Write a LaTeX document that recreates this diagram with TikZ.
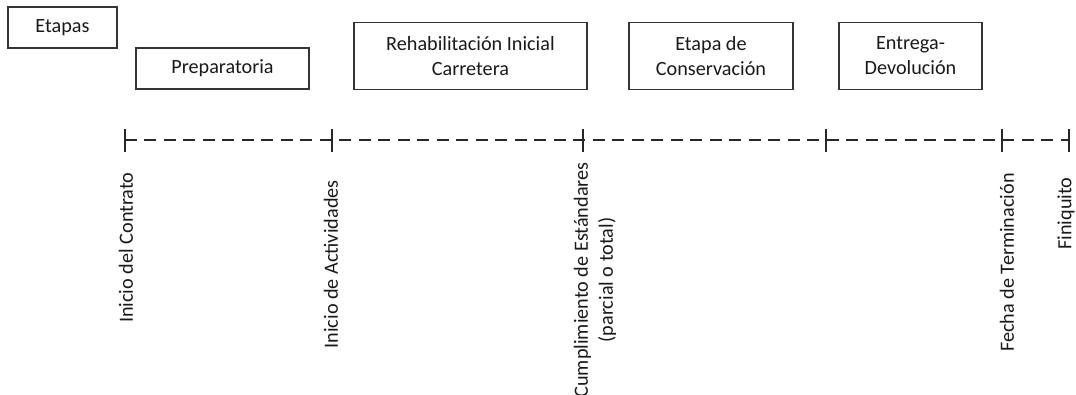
\documentclass[tikz,border=0pt]{standalone}
\usepackage{fontspec}
\setmainfont{Carlito}
\tikzset{
  etapa/.style={draw=black!80, line width=0.8pt, align=center, inner sep=0pt, text=black!90},
  hito/.style={rotate=90, anchor=east, align=center, inner sep=0pt, text=black!90},
  linea/.style={draw=black!85, line width=1.1pt, dash pattern=on 0.24cm off 0.15cm},
  marca/.style={draw=black!85, line width=1.1pt}
}
\begin{document}
\begin{tikzpicture}[x=0.02cm, y=-0.02cm, font=\fontsize{11.5}{14.2}\selectfont]
\useasboundingbox (0,0) rectangle (1076,395);

% Etapas
\node [etapa, minimum width=2.18cm, minimum height=0.82cm] (etapas) at (62.5,27.5) {Etapas};
\node [etapa, minimum width=3.46cm, minimum height=0.82cm] (prep) at (222.5,68.5) {Preparatoria};
\node [etapa, minimum width=4.66cm, minimum height=1.34cm] (rehab) at (470.5,56) {Rehabilitación Inicial\\Carretera};
\node [etapa, minimum width=3.28cm, minimum height=1.34cm] (cons) at (711,56) {Etapa de\\Conservación};
\node [etapa, minimum width=2.86cm, minimum height=1.34cm] (entrega) at (910.5,56) {Entrega-\\Devolución};

% Linea de tiempo
\coordinate (t1) at (125,140);
\coordinate (t2) at (332,140);
\coordinate (t3) at (583,140);
\coordinate (t4) at (826,140);
\coordinate (t5) at (1002,140);
\coordinate (t6) at (1069,140);
\draw [linea] (t1) -- (t6);
\foreach \t in {t1,t2,t3,t4,t5,t6}
  \draw [marca] ([yshift=0.22cm]\t) -- ([yshift=-0.24cm]\t);

% Hitos
\node [hito] (inicio) at (126,172) {Inicio del Contrato};
\node [hito] (activ) at (331,180) {Inicio de Actividades};
\node [hito] (cumpl) at (595,162) {Cumplimiento de Estándares\\(parcial o total)};
\node [hito] (fecha) at (1007,173) {Fecha de Terminación};
\node [hito] (finiq) at (1066,177) {Finiquito};
\end{tikzpicture}
\end{document}
